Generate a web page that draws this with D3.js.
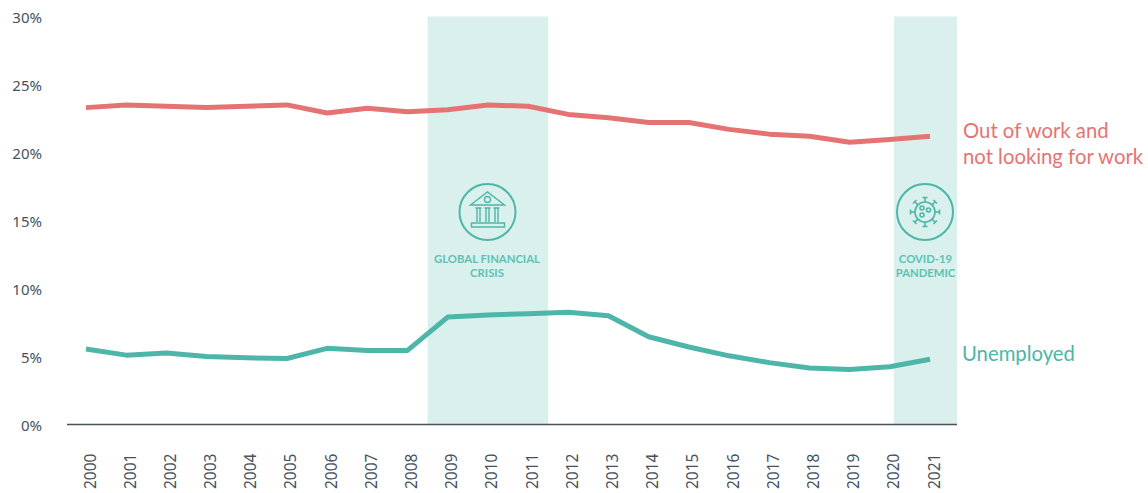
<!DOCTYPE html>
<html><head><meta charset="utf-8">
<script src="https://cdnjs.cloudflare.com/ajax/libs/d3/7.8.5/d3.min.js"></script>
<style>html,body{margin:0;background:#fff}svg{display:block}text{font-family:"Noto Sans",sans-serif}</style>
</head><body><svg id="c" width="1148" height="493"></svg>
<script>
const years=[2000,2001,2002,2003,2004,2005,2006,2007,2008,2009,2010,2011,2012,2013,2014,2015,2016,2017,2018,2019,2020,2021];
const outOfWork=[23.3,23.5,23.4,23.3,23.4,23.5,22.9,23.25,23.0,23.15,23.5,23.4,22.8,22.55,22.2,22.2,21.7,21.35,21.2,20.75,20.95,21.2];
const unemployed=[5.55,5.1,5.25,5.0,4.9,4.85,5.6,5.45,5.45,7.9,8.05,8.15,8.25,8.0,6.45,5.7,5.05,4.55,4.15,4.05,4.25,4.8];
const yTicks=[0,5,10,15,20,25,30];
const bands=[[2008.5,2011.5],[2020.1,2021.67]];
const teal="#4db6a8",red="#e57373",ink="#46525c",bandFill="#daf0ed";
const svg=d3.select("#c");
const x=d3.scaleLinear().domain([2000,2021]).range([86,930]);
const y=d3.scaleLinear().domain([0,30]).range([424.5,16.5]);
svg.selectAll("rect.b").data(bands).join("rect").attr("class","b")
 .attr("x",d=>x(d[0])).attr("width",d=>x(d[1])-x(d[0])).attr("y",y(30)).attr("height",y(0)-y(30)).attr("fill",bandFill);
svg.selectAll("text.yt").data(yTicks).join("text").attr("class","yt")
 .attr("x",42).attr("y",d=>y(d)+6.5).attr("text-anchor","end").attr("font-size",15).attr("fill",ink).text(d=>d+"%");
svg.append("line").attr("x1",67).attr("x2",957).attr("y1",y(0)).attr("y2",y(0)).attr("stroke",ink).attr("stroke-width",1.4);
svg.selectAll("text.xt").data(years).join("text").attr("class","xt")
 .attr("transform",d=>`translate(${x(d)+9.5},489) rotate(-90)`).attr("font-size",15.5).attr("fill",ink).text(d=>d);
const line=d3.line().x((d,i)=>x(years[i])).y(d=>y(d));
[[outOfWork,red],[unemployed,teal]].forEach(([s,c])=>svg.append("path").datum(s).attr("d",line).attr("fill","none").attr("stroke",c).attr("stroke-width",5).attr("stroke-linejoin","round"));
function label(lines,px,py,c){const t=svg.append("text").attr("font-size",20.3).attr("fill",c).style("font-family","Lato");
 lines.forEach((l,i)=>t.append("tspan").attr("x",px).attr("y",py+i*26).text(l));}
label(["Out of work and","not looking for work"],963,138,red);
label(["Unemployed"],962,361,teal);
function caption(lines,cx,py){const t=svg.append("text").attr("font-size",11.3).attr("font-weight",700).attr("fill","#5cc2b4").attr("text-anchor","middle").style("font-family","Lato");
 lines.forEach((l,i)=>t.append("tspan").attr("x",cx).attr("y",py+i*14).text(l));}
caption(["GLOBAL FINANCIAL","CRISIS"],487,263);
caption(["COVID-19","PANDEMIC"],925.5,263);
// bank icon
const g1=svg.append("g").attr("transform","translate(487.5,212)").attr("fill","none").attr("stroke",teal).attr("stroke-width",1.4);
g1.append("circle").attr("r",28).attr("stroke-width",2);
g1.append("path").attr("d","M-17,-7 L0,-20 L17,-7 Z M-16,11 H17 V15 H-16 Z");
g1.append("circle").attr("cy",-12.5).attr("r",3);
[[-12,-6],[-3,3],[6,12]].forEach(([a,b])=>{
 g1.append("path").attr("d",`M${a},-4 H${b} M${a+1.5},-4 V10 M${b-1.5},-4 V10`);});
// virus icon
const g2=svg.append("g").attr("transform","translate(925,212)").attr("fill","none").attr("stroke",teal).attr("stroke-width",1.6);
g2.append("circle").attr("r",28).attr("stroke-width",2);
g2.append("circle").attr("r",10);
d3.range(8).forEach(i=>{const a=i*Math.PI/4,c=Math.cos(a),s=Math.sin(a);
 g2.append("line").attr("x1",10*c).attr("y1",10*s).attr("x2",14.5*c).attr("y2",14.5*s);
 g2.append("line").attr("x1",14.5*c-2.5*s).attr("y1",14.5*s+2.5*c).attr("x2",14.5*c+2.5*s).attr("y2",14.5*s-2.5*c);});
[[-3,-4,2],[3.5,-2,2],[-3,3,2]].forEach(d=>g2.append("circle").attr("cx",d[0]).attr("cy",d[1]).attr("r",d[2]));
</script></body></html>
